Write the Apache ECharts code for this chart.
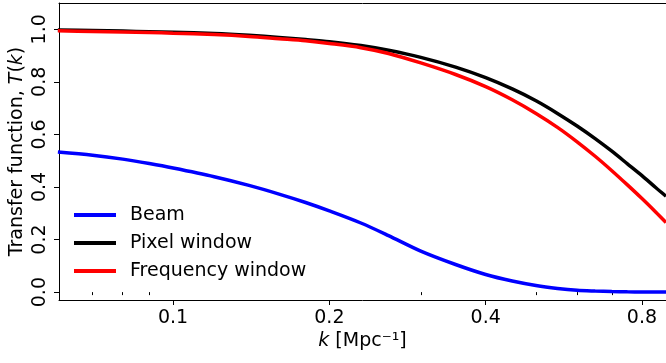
<!DOCTYPE html>
<html>
<head>
<meta charset="utf-8">
<script src="https://cdn.jsdelivr.net/npm/echarts@6/dist/echarts.min.js"></script>
<style>
  html, body { margin: 0; padding: 0; background: #fff; }
  #chartmain { width: 666px; height: 363px; }
</style>
</head>
<body>
<div id="chartmain"></div>
<script>
// k grid [Mpc^-1]
var kValues = [0.06, 0.07, 0.08, 0.09, 0.1, 0.12, 0.14, 0.16, 0.18, 0.2, 0.23, 0.26, 0.3,
    0.35, 0.4, 0.45, 0.5, 0.55, 0.6, 0.65, 0.7, 0.75, 0.8, 0.85, 0.89];
var beam = [0.533, 0.521, 0.506, 0.489, 0.472, 0.439, 0.406, 0.373, 0.341, 0.309, 0.263, 0.215, 0.156,
    0.105, 0.067, 0.042, 0.025, 0.014, 0.007, 0.004, 0.002, 0.001, 0.0005, 0.0002, 0.0001];
var pixelWindow = [0.997, 0.995, 0.993, 0.991, 0.989, 0.984, 0.977, 0.969, 0.961, 0.953, 0.938, 0.920, 0.893,
    0.856, 0.816, 0.773, 0.728, 0.680, 0.632, 0.584, 0.536, 0.488, 0.443, 0.398, 0.365];
var freqWindow = [0.994, 0.992, 0.990, 0.988, 0.985, 0.980, 0.973, 0.964, 0.956, 0.946, 0.930, 0.908, 0.872,
    0.828, 0.782, 0.732, 0.680, 0.627, 0.572, 0.517, 0.462, 0.408, 0.356, 0.305, 0.265];

var xMajorTicks = [0.1, 0.2, 0.4, 0.8];
var xMinorTicks = [0.06, 0.07, 0.08, 0.09, 0.3, 0.5, 0.6, 0.7];
var yTicks = [0.0, 0.2, 0.4, 0.6, 0.8, 1.0];

var kMin = 0.0603, kMax = 0.89;
var FONT = 'DejaVu Sans';
var FS = 19;

function lg(v) { return Math.log10(v); }
function pairs(ys) {
    return kValues.map(function (k, i) { return [lg(k), ys[i]]; });
}

var myChart = echarts.init(document.getElementById('chartmain'));

var option = {
    animation: false,
    backgroundColor: '#fff',
    textStyle: {fontFamily: FONT},
    grid: {left: 59, right: 0, top: 3, bottom: 63, containLabel: false, outerBoundsMode: 'none'},
    legend: {
        data: ['Beam', 'Pixel window', 'Frequency window'],
        orient: 'vertical',
        left: 74,
        top: 205,
        padding: 0,
        icon: 'rect',
        itemWidth: 42,
        itemHeight: 4,
        itemGap: 8,
        textStyle: {fontFamily: FONT, fontSize: FS, color: '#000', lineHeight: 20, padding: [0, 0, 0, 9]}
    },
    xAxis: [
        {
            type: 'value',
            position: 'bottom',
            min: lg(kMin),
            max: lg(kMax),
            name: '{i|k} [Mpc⁻¹]',
            nameLocation: 'middle',
            nameGap: 32,
            nameMoveOverlap: false,
            nameTextStyle: {
                fontFamily: FONT, fontSize: FS, color: '#000',
                rich: {i: {fontFamily: FONT, fontSize: FS, fontStyle: 'italic', color: '#000'}}
            },
            axisLine: {show: true, onZero: false, lineStyle: {color: '#000', width: 1}},
            axisTick: {show: true, length: 5, customValues: xMajorTicks.map(lg), lineStyle: {color: '#000'}},
            axisLabel: {
                customValues: xMajorTicks.map(lg),
                margin: 9,
                fontFamily: FONT, fontSize: FS, color: '#000',
                formatter: function (v) {
                    return (Math.round(Math.pow(10, v) * 10) / 10).toFixed(1);
                }
            },
            splitLine: {show: false}
        },
        {
            type: 'value',
            position: 'bottom',
            min: lg(kMin),
            max: lg(kMax),
            axisLine: {show: false},
            axisTick: {show: true, length: 3, customValues: xMinorTicks.map(lg), lineStyle: {color: '#000'}},
            axisLabel: {show: false},
            splitLine: {show: false}
        },
        {
            type: 'value',
            position: 'top',
            min: lg(kMin),
            max: lg(kMax),
            axisLine: {show: true, onZero: false, lineStyle: {color: '#000', width: 1}},
            axisTick: {show: false},
            axisLabel: {show: false},
            splitLine: {show: false}
        }
    ],
    yAxis: {
        type: 'value',
        min: -0.03,
        max: 1.1,
        name: 'Transfer function, {i|T}({i|k})',
        nameLocation: 'middle',
        nameGap: 32,
        nameMoveOverlap: false,
        nameTextStyle: {
            fontFamily: FONT, fontSize: FS, color: '#000',
            rich: {i: {fontFamily: FONT, fontSize: FS, fontStyle: 'italic', color: '#000'}}
        },
        axisLine: {show: true, onZero: false, lineStyle: {color: '#000', width: 1}},
        axisTick: {show: true, length: 5, customValues: yTicks, lineStyle: {color: '#000'}},
        axisLabel: {
            customValues: yTicks,
            rotate: 90,
            margin: 9,
            fontFamily: FONT, fontSize: FS, color: '#000',
            formatter: function (v) { return v.toFixed(1); }
        },
        splitLine: {show: false}
    },
    series: [
        {
            name: 'Beam', type: 'line', data: pairs(beam), smooth: 0.3,
            showSymbol: false, symbol: 'none',
            lineStyle: {color: '#0000ff', width: 3.5}, itemStyle: {color: '#0000ff'}
        },
        {
            name: 'Pixel window', type: 'line', data: pairs(pixelWindow), smooth: 0.3,
            showSymbol: false, symbol: 'none',
            lineStyle: {color: '#000000', width: 3.5}, itemStyle: {color: '#000000'}
        },
        {
            name: 'Frequency window', type: 'line', data: pairs(freqWindow), smooth: 0.3,
            showSymbol: false, symbol: 'none',
            lineStyle: {color: '#ff0000', width: 3.5}, itemStyle: {color: '#ff0000'}
        }
    ]
};

myChart.setOption(option);
</script>
</body>
</html>
